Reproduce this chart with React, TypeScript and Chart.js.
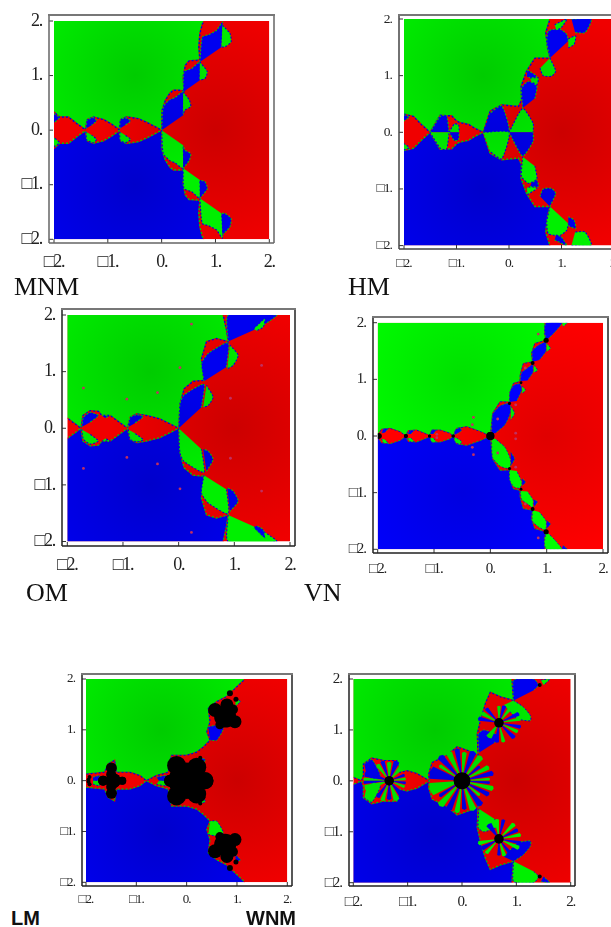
import React, { useEffect, useRef } from "react";
import { Chart, registerables } from "chart.js";

Chart.register(...registerables);

type Pt = number[];

const tickValues = [-2, -1, 0, 1, 2];
const tickLabels = ["\u25A12.", "\u25A11.", "0.", "1.", "2."];

// Every list below holds the upper half (y >= 0); the lower half is its mirror with blue and green swapped.
const mnmRegion: Pt[] = [[-2,2],[.79,2],[.755,1.94],[.71,1.77],[.69,1.52],[.71,1.29],[.65,1.28],[.51,1.27],[.44,1.19],[.40,.975],[.415,.72],[.34,.73],[.22,.73],[.155,.68],[.07,.55],[.01,.37],[0,0],[-.25,.13],[-.43,.21],[-.65,.245],[-.76,.195],[-.79,.01],[-.93,.11],[-1.08,.195],[-1.27,.24],[-1.38,.195],[-1.42,.01],[-1.59,.13],[-1.73,.24],[-1.90,.24],[-2,.335]];
const mnmBlue: Pt[][] = [
  [[0,0],[.03,.43],[.155,.56],[.25,.60],[.40,.70],[.40,.275]],
  [[.40,.70],[.415,1.07],[.56,1.13],[.71,1.25],[.71,.915]],
  [[.71,1.25],[.755,1.71],[.87,1.75],[1.02,1.83],[1.13,1.98],[1.115,1.525]],
  [[-.774,.03],[-.774,.18],[-.68,.23],[-.575,.17],[-.68,.09]],
  [[-1.405,.03],[-1.39,.18],[-1.27,.23],[-1.21,.17],[-1.30,.09]],
  [[-2,.30],[-1.9,.23],[-2,.134]],
];
const mnmGreen: Pt[][] = [
  [[.40,.70],[.515,.55],[.54,.43],[.43,.365],[.40,.275]],
  [[.71,1.25],[.85,1.07],[.805,.945],[.71,.915]],
  [[1.13,1.92],[1.27,1.77],[1.29,1.615],[1.175,1.525],[1.115,1.525]],
];

const hmRegion: Pt[] = [[-2,2],[.78,2],[.70,1.76],[.735,1.49],[.78,1.31],[.495,1.31],[.335,1.08],[.23,.81],[.24,.57],[.18,.455],[-.14,.485],[-.36,.37],[-.49,0],[-.65,.07],[-.77,.14],[-.93,.17],[-1.0,.2],[-1.09,.29],[-1.31,.3],[-1.505,0],[-1.66,.13],[-1.82,.28],[-2,.32]];
const hmBlue: Pt[][] = [
  [[-.49,0],[0,0],[-.14,.47],[-.36,.34]],
  [[.26,.43],[.24,.78],[.37,.90],[.53,.82],[.495,.60]],
  [[.35,1.1],[.53,.99],[.43,.96],[.34,.98]],
  [[.78,1.31],[.72,1.58],[.75,1.79],[.97,1.82],[1.10,1.73],[1.13,1.61]],
  [[1.19,2],[1.57,2],[1.45,1.76],[1.26,1.76]],
  [[-1.505,0],[-1.31,.28],[-1.19,.3],[-1.14,0]],
  [[-2,.31],[-1.9,.27],[-2,.2]],
];
const hmGreen: Pt[][] = [
  [[0,0],[.26,.42],[.46,.16],[.46,0]],
  [[-1.14,0],[-1.04,.15],[-.96,.13],[-.95,0]],
  [[.78,1.31],[.89,1.08],[.81,.99],[.65,1.0],[.59,1.13]],
  [[.40,.96],[.56,.96],[.53,.84],[.43,.89]],
  [[1.13,1.65],[1.27,1.7],[1.24,1.55],[1.13,1.49]],
  [[.87,1.9],[1.1,2],[1.0,1.85],[.9,1.8]],
];

const omRegion: Pt[] = [[-2,2],[.80,2],[.86,1.73],[.89,1.53],[.68,1.585],[.50,1.53],[.41,1.23],[.455,.845],[.26,.83],[.10,.70],[.024,.43],[0,0],[-.335,.165],[-.575,.225],[-.755,.255],[-.87,.195],[-.92,0],[-1.23,.225],[-1.38,.225],[-1.44,.30],[-1.59,.31],[-1.72,.225],[-1.755,0],[-2,.18]];
const omBlue: Pt[][] = [
  [[0,0],[.024,.43],[.09,.58],[.455,.78],[.41,.37]],
  [[.455,.83],[.41,1.14],[.53,1.32],[.89,1.51],[.86,1.08]],
  [[.89,1.53],[.89,2],[1.76,2],[1.52,1.82],[1.34,1.73]],
  [[-1.74,.02],[-1.71,.195],[-1.59,.28],[-1.44,.225],[-1.59,.105]],
  [[-1.38,.225],[-1.23,.225],[-1.32,.18]],
  [[-.905,.02],[-.87,.195],[-.755,.24],[-.635,.205],[-.785,.09]],
];
const omGreen: Pt[][] = [
  [[.5,.76],[.62,.55],[.53,.40],[.44,.37]],
  [[.92,1.47],[1.07,1.29],[.98,1.11],[.875,1.05]],
  [[1.35,1.76],[1.55,1.94],[1.52,1.79],[1.40,1.72]],
];
const omSpecks: Pt[] = [[.23,1.84],[-1.71,.71],[-.93,.515],[-.38,.63],[.024,1.07],[1.49,1.11],[.93,.53]];

const vnRegion: Pt[] = [[-2,2],[.97,2],[.96,1.81],[.99,1.69],[.79,1.635],[.73,1.46],[.75,1.31],[.585,1.28],[.53,1.08],[.525,.96],[.41,.93],[.34,.75],[.34,.6],[.17,.605],[.04,.40],[0,0],[-.18,.08],[-.42,.165],[-.6,.135],[-.66,0],[-.72,.05],[-.89,.105],[-1.04,.105],[-1.08,0],[-1.1,.02],[-1.31,.105],[-1.46,.095],[-1.5,0],[-1.6,.075],[-1.78,.135],[-1.93,.12],[-2,.02]];
const vnBlue: Pt[][] = [
  [[.02,.05],[.04,.38],[.17,.53],[.34,.575],[.36,.42],[.26,.2],[.09,.05]],
  [[.34,.6],[.345,.78],[.42,.9],[.525,.92],[.56,.82],[.47,.62]],
  [[.53,.97],[.555,1.12],[.66,1.2],[.75,1.26],[.76,1.13],[.66,.98]],
  [[.75,1.31],[.745,1.5],[.85,1.6],[.98,1.66],[.99,1.5],[.87,1.34]],
  [[.99,1.69],[.96,1.88],[.99,2],[1.27,2],[1.15,1.84],[1.03,1.72]],
  [[-.645,.02],[-.625,.105],[-.54,.15],[-.51,.095],[-.6,.035]],
  [[-1.07,.035],[-1.04,.105],[-.965,.105],[-1.01,.035]],
  [[-1.47,.035],[-1.43,.095],[-1.355,.095],[-1.41,.035]],
  [[-1.93,.05],[-1.9,.12],[-1.81,.135],[-1.87,.06]],
];
const vnGreen: Pt[][] = [
  [[.37,.52],[.43,.40],[.36,.28]],
  [[.565,.88],[.625,.81],[.565,.75]],
  [[.775,1.25],[.84,1.16],[.77,1.12]],
  [[1.0,1.635],[1.07,1.55],[1.0,1.49]],
  [[1.27,2],[1.37,2],[1.29,1.93]],
];
const vnBlack: Pt[] = [[0,0,4],[.34,.575,1.6],[.545,.94,1.4],[.75,1.29,2],[.99,1.69,2.6],[-1.98,0,2.8],[-1.5,0,2],[-1.08,0,1.6],[-.66,0,1.6]];
const vnSpecks: Pt[] = [[.13,.3],[-.3,.33],[-.32,.2],[.85,1.8],[.62,1.2],[.45,.55],[.45,.05],[-.95,.03]];

const lmRegion: Pt[] = [[-2,2],[1.16,2],[.9,1.755],[.8,1.66],[.6,1.556],[.43,1.42],[.465,1.16],[.4,.96],[.465,.795],[.33,.66],[.2,.56],[0,.5],[-.3,.5],[-.365,.165],[-.6,.1],[-.8,0],[-.93,.1],[-1.13,.165],[-1.4,.165],[-1.43,.4],[-1.56,.33],[-1.63,.165],[-2,.13]];
const lmBlue: Pt[][] = [
  [[.43,1.06],[.6,1.09],[.73,1.03],[.6,.795],[.465,.795]],
  [[-1.86,.07],[-1.73,.1],[-1.73,0],[-1.86,0]],
  [[-.6,.07],[-.4,.1],[-.4,0],[-.55,0]],
  [[.25,.45],[.37,.42],[.33,.33],[.27,.36]],
];
const lmGreen: Pt[][] = [
  [[.97,1.6],[1.07,1.56],[.97,1.46]],
];
const lmBlack: Pt[] = [[0,0,18],[-.2,.3,9.5],[.2,.265,9.5],[.365,0,8.5],[-.33,0,6],[.765,1.26,11],[.565,1.39,7],[.8,1.49,6.5],[.96,1.16,6.5],[.92,1.4,5],[.66,1.1,4.5],[-1.46,0,7.5],[-1.66,0,5],[-1.28,0,4],[-1.495,.25,5.5],[-1.5,.12,5],[-1.93,.07,2],[-1.95,.02,2],[.86,1.72,3],[.98,1.6,2.5],[.33,.33,2],[.27,.45,2]];

const wnmRegion: Pt[] = [[-2,2],[.92,2],[.93,1.8],[.95,1.58],[.71,1.65],[.52,1.74],[.43,1.52],[.34,1.19],[.28,.92],[.295,.5],[.12,.59],[-.09,.67],[-.28,.5],[-.55,.36],[-.615,.13],[-.6,0],[-.83,.145],[-1.015,.2],[-1.14,.165],[-1.2,.4],[-1.445,.4],[-1.66,.45],[-1.815,.33],[-1.815,.1],[-1.85,0],[-2,.07]];
const wnmBlue: Pt[][] = [
  [[.31,.55],[.30,.92],[.4,1.0],[.65,.9],[.6,.75]],
  [[.95,1.58],[.95,1.98],[1.32,2],[1.41,1.88],[1.32,1.78]],
  [[-1.8,.33],[-1.66,.42],[-1.5,.1],[-1.62,.03],[-1.75,.1]],
];
const wnmGreen: Pt[][] = [
  [[.95,1.58],[1.13,1.45],[1.26,1.28],[1.26,1.18],[1.02,1.22],[.77,1.49]],
  [[1.45,1.98],[1.62,2],[1.5,1.88]],
];
const wnmBlack: Pt[] = [[0,0,8.3],[.68,1.14,4.8],[-1.34,0,4.6],[1.43,1.88,2]];
// Spokes of the three flowers: start angle, end angle (degrees), length.
const wnmHubs: Pt[] = [[0,0],[.68,1.14],[-1.34,0]];
const wnmBlueSpokes: Pt[][] = [
  [[152,176,.6],[124,136,.62],[94,103,.62],[64,76,.6],[37,45,.42],[10,20,.58]],
  [[20,32,.4],[67,80,.34],[124,136,.36],[161,174,.38],[-17,-6,.4],[-53,-40,.4],[-103,-90,.38]],
  [[152,170,.46],[102,114,.4],[62,78,.4],[17,28,.3]],
];
const wnmGreenSpokes: Pt[][] = [
  [[140,148,.5],[108,119,.6],[81,90,.55],[48,60,.58],[24,34,.55],[1,7,.5]],
  [[6,16,.4],[48,60,.34],[84,96,.32],[142,156,.36],[-33,-22,.38],[-83,-72,.38],[-133,-114,.34]],
  [[172,180,.46],[118,130,.38],[83,97,.36],[42,58,.36],[2,13,.3]],
];

const wedges = (hubs: Pt[], lists: Pt[][]): Pt[][] =>
  lists.flatMap((list, i) =>
    list.map(([a0, a1, r]) => {
      const [cx, cy] = hubs[i];
      const pol = (a: number, k: number) => [cx + k * Math.cos((a * Math.PI) / 180), cy + k * Math.sin((a * Math.PI) / 180)];
      return [[cx, cy], pol(a0, r), pol((a0 + a1) / 2, r * 1.04), pol(a1, r)];
    })
  );

const mirror = (pts: Pt[]): Pt[] => pts.map(([x, y, ...rest]) => [x, -y, ...rest]);

interface Panel {
  name: string; region: Pt[]; blue: Pt[][]; green: Pt[][]; spokeBlue?: Pt[][]; spokeGreen?: Pt[][];
  black?: Pt[]; specks?: Pt[];
  box: number[]; img: number[]; font: number; bright?: boolean; fringe: number; sideColor: string;
  label: { left: number; top: number; size: number; bold?: boolean };
}

const panels: Panel[] = [
  { name: "MNM", region: mnmRegion, blue: mnmBlue, green: mnmGreen, box: [49, 15, 274, 243], img: [54, 269.3, 21, 239.3], font: 18, fringe: 1.4, sideColor: "#666", label: { left: 14, top: 274, size: 26 } },
  { name: "HM", region: hmRegion, blue: hmBlue, green: hmGreen, box: [399, 15, 619, 249], img: [404, 614, 19, 245.6], font: 13.5, fringe: 1.4, sideColor: "#444", label: { left: 348, top: 274, size: 26 } },
  { name: "OM", region: omRegion, blue: omBlue, green: omGreen, specks: omSpecks, box: [62, 309, 295, 546], img: [67.3, 290, 315, 541.5], font: 18, fringe: 1.3, sideColor: "#222", label: { left: 26, top: 580, size: 26 } },
  { name: "VN", region: vnRegion, blue: vnBlue, green: vnGreen, black: vnBlack, specks: vnSpecks, bright: true, box: [373, 317, 608, 553], img: [377.7, 603, 322.7, 549.3], font: 15, fringe: .9, sideColor: "#222", label: { left: 304, top: 580, size: 26 } },
  { name: "LM", region: lmRegion, blue: lmBlue, green: lmGreen, black: lmBlack, box: [82, 674, 292, 886], img: [86, 287.3, 679, 882.3], font: 13, fringe: 1.2, sideColor: "#222", label: { left: 11, top: 908, size: 20, bold: true } },
  { name: "WNM", region: wnmRegion, blue: wnmBlue, green: wnmGreen, black: wnmBlack, spokeBlue: wedges(wnmHubs, wnmBlueSpokes), spokeGreen: wedges(wnmHubs, wnmGreenSpokes), box: [349, 674, 575, 886], img: [353.3, 570.7, 679, 882.7], font: 15, fringe: 1.2, sideColor: "#222", label: { left: 246, top: 908, size: 20, bold: true } },
];

const PAD_L = 40, PAD_T = 12, PAD_R = 14, PAD_B = 36;

const toXY = (pts: Pt[]) => pts.map(([x, y]) => ({ x, y }));

function gradient(color: "r" | "g" | "b", bright: boolean) {
  const hi = bright ? 255 : 240, lo = bright ? 224 : 204;
  const mk = (v: number) => (color === "r" ? `rgb(${v},0,0)` : color === "g" ? `rgb(0,${v},0)` : `rgb(0,0,${v})`);
  const [cx, cy] = color === "r" ? [1, 0] : color === "g" ? [-.5, 1] : [-.5, -1];
  return (ctx: any) => {
    const chart = ctx.chart;
    const sx = chart.scales.x, sy = chart.scales.y;
    if (!chart.chartArea || !sx || !sy) return mk(hi);
    const px = sx.getPixelForValue(cx), py = sy.getPixelForValue(cy);
    const rad = Math.abs(sx.getPixelForValue(2.2) - sx.getPixelForValue(0));
    const g = chart.ctx.createRadialGradient(px, py, 0, px, py, rad);
    g.addColorStop(0, mk(lo));
    g.addColorStop(1, mk(hi));
    return g;
  };
}

function buildDatasets(p: Panel) {
  const bright = !!p.bright;
  const fillG = gradient("g", bright), fillB = gradient("b", bright), fillR = gradient("r", bright);
  const shape = (pts: Pt[], bg: any, border: string, bw: number, tension: number) => ({
    type: "line", data: toXY(pts), fill: "shape", backgroundColor: bg, borderColor: border, borderWidth: bw,
    borderDash: [1.8, 1.8], pointRadius: 0, tension, cubicInterpolationMode: "default",
  });
  const trace = (pts: Pt[], color: string, offset: number) => ({
    type: "line", data: toXY(pts), fill: false, borderColor: color, borderWidth: p.fringe,
    borderDash: [2, 2], borderDashOffset: offset, pointRadius: 0, tension: 0,
  });
  const list: any[] = [];
  const square: Pt[] = [[-2, 2], [2, 2], [2, -2], [-2, -2]];
  list.push(shape(square, fillR, "transparent", 0, 0));
  list.push(shape(p.region, fillG, "transparent", 0, 0));
  list.push(shape(mirror(p.region), fillB, "transparent", 0, 0));
  const edge = p.region.slice(1);
  list.push(trace(edge, "#e00000", 0), trace(edge, "#0000e0", 2));
  list.push(trace(mirror(edge), "#e00000", 0), trace(mirror(edge), "#00c800", 2));
  const bw = p.fringe * 0.8;
  p.blue.forEach((poly) => {
    list.push(shape(poly, fillB, "#00c800", bw, .2));
    list.push(shape(mirror(poly), fillG, "#0000e0", bw, .2));
  });
  p.green.forEach((poly) => {
    list.push(shape(poly, fillG, "#0000e0", bw, .2));
    list.push(shape(mirror(poly), fillB, "#00c800", bw, .2));
  });
  (p.spokeBlue || []).forEach((poly) => {
    list.push(shape(poly, fillB, "transparent", 0, 0));
    list.push(shape(mirror(poly), fillG, "transparent", 0, 0));
  });
  (p.spokeGreen || []).forEach((poly) => {
    list.push(shape(poly, fillG, "transparent", 0, 0));
    list.push(shape(mirror(poly), fillB, "transparent", 0, 0));
  });
  if (p.specks) {
    const pts = [...p.specks, ...mirror(p.specks)];
    list.push({ type: "bubble", data: pts.map(([x, y]) => ({ x, y, r: 1.4 })), backgroundColor: "#c03060", borderWidth: 0 });
  }
  if (p.black) {
    const pts = [...p.black, ...mirror(p.black)];
    list.push({ type: "bubble", data: pts.map(([x, y, r]) => ({ x, y, r })), backgroundColor: "#000", borderWidth: 0 });
  }
  return list.reverse();
}

function makeFramePlugin(p: Panel) {
  return {
    id: "frame",
    beforeDraw(chart: any) {
      chart.ctx.letterSpacing = `${-p.font * 0.07}px`;
    },
    afterDatasetsDraw(chart: any) {
      const { ctx, chartArea: a, scales } = chart;
      const ix0 = scales.x.getPixelForValue(-2), ix1 = scales.x.getPixelForValue(2);
      const iy0 = scales.y.getPixelForValue(2), iy1 = scales.y.getPixelForValue(-2);
      ctx.save();
      ctx.beginPath();
      ctx.rect(a.left - 2, a.top - 2, a.width + 4, a.height + 4);
      ctx.rect(ix0, iy0, ix1 - ix0, iy1 - iy0);
      ctx.fillStyle = "#fff";
      ctx.fill("evenodd");
      ctx.strokeStyle = "#333";
      ctx.lineWidth = 1;
      ctx.beginPath();
      tickValues.forEach((v) => {
        const px = scales.x.getPixelForValue(v);
        ctx.moveTo(px, a.bottom);
        ctx.lineTo(px, a.bottom - 4);
        const py = scales.y.getPixelForValue(v);
        ctx.moveTo(a.left, py);
        ctx.lineTo(a.left + 4, py);
      });
      ctx.stroke();
      ctx.lineWidth = 1.5;
      ctx.strokeStyle = p.sideColor;
      ctx.beginPath();
      ctx.moveTo(a.left, a.top);
      ctx.lineTo(a.left, a.bottom);
      ctx.moveTo(a.left, a.bottom);
      ctx.lineTo(a.right, a.bottom);
      ctx.moveTo(a.right, a.bottom);
      ctx.lineTo(a.right, a.top);
      ctx.stroke();
      ctx.lineWidth = 2;
      ctx.strokeStyle = "#777";
      ctx.beginPath();
      ctx.moveTo(a.left - 1, a.top);
      ctx.lineTo(a.right + 1, a.top);
      ctx.stroke();
      ctx.restore();
    },
  };
}

function PanelChart({ panel }: { panel: Panel }) {
  const ref = useRef<HTMLCanvasElement>(null);
  const [L, T, R, B] = panel.box;
  const [x0, x1, y0, y1] = panel.img;
  useEffect(() => {
    const ux = (x1 - x0) / 4, uy = (y1 - y0) / 4;
    const fixTicks = (scale: any) => {
      scale.ticks = tickValues.map((value) => ({ value }));
    };
    const tickFont = { family: "'Liberation Serif'", size: panel.font };
    const label = (v: any) => tickLabels[tickValues.indexOf(Number(v))] ?? "";
    const chart = new Chart(ref.current as HTMLCanvasElement, {
      data: { datasets: buildDatasets(panel) },
      plugins: [makeFramePlugin(panel)],
      options: {
        responsive: false,
        animation: false,
        events: [],
        layout: { autoPadding: false, padding: { left: 0, top: PAD_T, right: PAD_R, bottom: 0 } },
        plugins: { legend: { display: false }, tooltip: { enabled: false }, title: { display: false } },
        scales: {
          x: {
            type: "linear", min: -2 - (x0 - L) / ux, max: 2 + (R - x1) / ux,
            afterBuildTicks: fixTicks,
            afterFit: (s: any) => { s.height = PAD_B; },
            grid: { display: false, drawTicks: true, tickLength: panel.font * 0.45 }, border: { display: false },
            ticks: { callback: label, font: tickFont, color: "#222", padding: 0, autoSkip: false, maxRotation: 0, minRotation: 0 },
          },
          y: {
            type: "linear", max: 2 + (y0 - T) / uy, min: -2 - (B - y1) / uy,
            afterBuildTicks: fixTicks,
            afterFit: (s: any) => { s.width = PAD_L; },
            grid: { display: false, drawTicks: true, tickLength: 7 }, border: { display: false },
            ticks: { callback: label, font: tickFont, color: "#222", padding: 0, autoSkip: false },
          },
        },
      },
    } as any);
    return () => chart.destroy();
  }, []);
  return (
    <canvas
      ref={ref}
      width={R - L + PAD_L + PAD_R}
      height={B - T + PAD_T + PAD_B}
      style={{ position: "absolute", left: L - PAD_L, top: T - PAD_T, display: "block" }}
    />
  );
}

export default function App() {
  return (
    <div style={{ position: "absolute", left: 0, top: 0, width: 611, height: 927, overflow: "hidden", background: "#fff" }}>
      {panels.map((p) => (
        <PanelChart key={p.name} panel={p} />
      ))}
      {panels.map((p) => (
        <span
          key={p.name + "-label"}
          style={{
            position: "absolute", left: p.label.left, top: p.label.top, lineHeight: 1, fontSize: p.label.size, color: "#111",
            fontFamily: p.label.bold ? "'Liberation Sans'" : "'Liberation Serif'", fontWeight: p.label.bold ? 700 : 400,
          }}
        >
          {p.name}
        </span>
      ))}
    </div>
  );
}
